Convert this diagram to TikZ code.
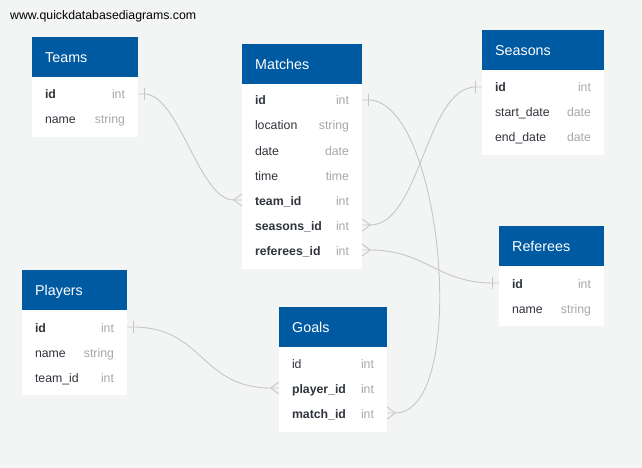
\documentclass[tikz,border=0pt]{standalone}
\usepackage{fontspec}
\setmainfont{Liberation Sans}
\usetikzlibrary{calc}
\definecolor{bg}{RGB}{243,245,244}
\definecolor{hdrblue}{RGB}{0,90,162}
\definecolor{fieldtxt}{RGB}{48,52,60}
\definecolor{typetxt}{RGB}{168,168,168}
\definecolor{relline}{RGB}{198,198,198}
\newcommand\erone[2]{\draw[rel] ($(#1)+(#2*6,-6)$) -- ++(0,12);}
\newcommand\ermany[2]{\draw[rel] ($(#1)+(0,-6)$) -- ($(#1)+(#2*8,0)$) -- ($(#1)+(0,6)$);}
\begin{document}
\begin{tikzpicture}[x=1pt,y=-1pt,
  hdr/.style={fill=hdrblue, text=white, font=\fontsize{14.3}{16}\selectfont, anchor=north west,
    minimum height=40pt, inner xsep=13pt, inner ysep=0pt, align=left, text height=10pt, text depth=0pt},
  bodybox/.style={fill=white, anchor=north west, inner sep=0pt},
  rowbox/.style={inner sep=0pt, minimum height=25pt},
  fname/.style={anchor=west, text=fieldtxt, font=\fontsize{12.3}{14}\selectfont, inner sep=0pt,
    text height=10pt, text depth=0pt},
  fbold/.style={fname, font=\fontsize{12.3}{14}\selectfont\bfseries},
  ftype/.style={anchor=east, text=typetxt, font=\fontsize{12.3}{14}\selectfont, inner sep=0pt,
    text height=10pt, text depth=0pt},
  rel/.style={draw=relline, line width=0.9pt},
]
\fill[bg] (0,0) rectangle (642,468);
\useasboundingbox (0,0) rectangle (642,468);

\node[anchor=base west, inner sep=0pt, font=\fontsize{12.3}{14}\selectfont] (url) at (10,20) {www.quickdatabasediagrams.com};

% ---------- Teams ----------
\node[bodybox, minimum width=106pt, minimum height=60pt] (teams-body) at (32,77) {};
\node[hdr, text width=80pt] (teams) at (32,37) {Teams};
\node[rowbox, minimum width=106pt] (teams-id) at (85,94) {};
\node[rowbox, minimum width=106pt] (teams-name) at (85,119) {};
\node[fbold] (teams-id-n) at ([xshift=13pt]teams-id.west) {id};
\node[ftype] (teams-id-t) at ([xshift=-13pt]teams-id.east) {int};
\node[fname] (teams-name-n) at ([xshift=13pt]teams-name.west) {name};
\node[ftype] (teams-name-t) at ([xshift=-13pt]teams-name.east) {string};

% ---------- Matches ----------
\node[bodybox, minimum width=120pt, minimum height=185pt] (matches-body) at (242,84) {};
\node[hdr, text width=94pt] (matches) at (242,44) {Matches};
\node[rowbox, minimum width=120pt] (matches-id) at (302,100) {};
\node[rowbox, minimum width=120pt] (matches-location) at (302,125) {};
\node[rowbox, minimum width=120pt] (matches-date) at (302,150) {};
\node[rowbox, minimum width=120pt] (matches-time) at (302,175) {};
\node[rowbox, minimum width=120pt] (matches-teamid) at (302,200) {};
\node[rowbox, minimum width=120pt] (matches-seasonsid) at (302,225) {};
\node[rowbox, minimum width=120pt] (matches-refid) at (302,250) {};
\node[fbold] (matches-id-n) at ([xshift=13pt]matches-id.west) {id};
\node[ftype] (matches-id-t) at ([xshift=-13pt]matches-id.east) {int};
\node[fname] (matches-location-n) at ([xshift=13pt]matches-location.west) {location};
\node[ftype] (matches-location-t) at ([xshift=-13pt]matches-location.east) {string};
\node[fname] (matches-date-n) at ([xshift=13pt]matches-date.west) {date};
\node[ftype] (matches-date-t) at ([xshift=-13pt]matches-date.east) {date};
\node[fname] (matches-time-n) at ([xshift=13pt]matches-time.west) {time};
\node[ftype] (matches-time-t) at ([xshift=-13pt]matches-time.east) {time};
\node[fbold] (matches-teamid-n) at ([xshift=13pt]matches-teamid.west) {team\_id};
\node[ftype] (matches-teamid-t) at ([xshift=-13pt]matches-teamid.east) {int};
\node[fbold] (matches-seasonsid-n) at ([xshift=13pt]matches-seasonsid.west) {seasons\_id};
\node[ftype] (matches-seasonsid-t) at ([xshift=-13pt]matches-seasonsid.east) {int};
\node[fbold] (matches-refid-n) at ([xshift=13pt]matches-refid.west) {referees\_id};
\node[ftype] (matches-refid-t) at ([xshift=-13pt]matches-refid.east) {int};

% ---------- Seasons ----------
\node[bodybox, minimum width=122pt, minimum height=85pt] (seasons-body) at (482,70) {};
\node[hdr, text width=96pt] (seasons) at (482,30) {Seasons};
\node[rowbox, minimum width=122pt] (seasons-id) at (543,87) {};
\node[rowbox, minimum width=122pt] (seasons-start) at (543,112) {};
\node[rowbox, minimum width=122pt] (seasons-end) at (543,137) {};
\node[fbold] (seasons-id-n) at ([xshift=13pt]seasons-id.west) {id};
\node[ftype] (seasons-id-t) at ([xshift=-13pt]seasons-id.east) {int};
\node[fname] (seasons-start-n) at ([xshift=13pt]seasons-start.west) {start\_date};
\node[ftype] (seasons-start-t) at ([xshift=-13pt]seasons-start.east) {date};
\node[fname] (seasons-end-n) at ([xshift=13pt]seasons-end.west) {end\_date};
\node[ftype] (seasons-end-t) at ([xshift=-13pt]seasons-end.east) {date};

% ---------- Referees ----------
\node[bodybox, minimum width=105pt, minimum height=60pt] (referees-body) at (499,266) {};
\node[hdr, text width=79pt] (referees) at (499,226) {Referees};
\node[rowbox, minimum width=105pt] (referees-id) at (551.5,283) {};
\node[rowbox, minimum width=105pt] (referees-name) at (551.5,308) {};
\node[fbold] (referees-id-n) at ([xshift=13pt]referees-id.west) {id};
\node[ftype] (referees-id-t) at ([xshift=-13pt]referees-id.east) {int};
\node[fname] (referees-name-n) at ([xshift=13pt]referees-name.west) {name};
\node[ftype] (referees-name-t) at ([xshift=-13pt]referees-name.east) {string};

% ---------- Players ----------
\node[bodybox, minimum width=105pt, minimum height=85pt] (players-body) at (22,310) {};
\node[hdr, text width=79pt] (players) at (22,270) {Players};
\node[rowbox, minimum width=105pt] (players-id) at (74.5,327) {};
\node[rowbox, minimum width=105pt] (players-name) at (74.5,352) {};
\node[rowbox, minimum width=105pt] (players-teamid) at (74.5,377) {};
\node[fbold] (players-id-n) at ([xshift=13pt]players-id.west) {id};
\node[ftype] (players-id-t) at ([xshift=-13pt]players-id.east) {int};
\node[fname] (players-name-n) at ([xshift=13pt]players-name.west) {name};
\node[ftype] (players-name-t) at ([xshift=-13pt]players-name.east) {string};
\node[fname] (players-teamid-n) at ([xshift=13pt]players-teamid.west) {team\_id};
\node[ftype] (players-teamid-t) at ([xshift=-13pt]players-teamid.east) {int};

% ---------- Goals ----------
\node[bodybox, minimum width=108pt, minimum height=85pt] (goals-body) at (279,347) {};
\node[hdr, text width=82pt] (goals) at (279,307) {Goals};
\node[rowbox, minimum width=108pt] (goals-id) at (333,363) {};
\node[rowbox, minimum width=108pt] (goals-playerid) at (333,388) {};
\node[rowbox, minimum width=108pt] (goals-matchid) at (333,413) {};
\node[fname] (goals-id-n) at ([xshift=13pt]goals-id.west) {id};
\node[ftype] (goals-id-t) at ([xshift=-13pt]goals-id.east) {int};
\node[fbold] (goals-playerid-n) at ([xshift=13pt]goals-playerid.west) {player\_id};
\node[ftype] (goals-playerid-t) at ([xshift=-13pt]goals-playerid.east) {int};
\node[fbold] (goals-matchid-n) at ([xshift=13pt]goals-matchid.west) {match\_id};
\node[ftype] (goals-matchid-t) at ([xshift=-13pt]goals-matchid.east) {int};

% ---------- relations ----------
\draw[rel] (teams-id.east) -- ++(6,0) .. controls +(35,0) and +(-35,0) .. ([xshift=-8pt]matches-teamid.west) -- (matches-teamid.west);
\erone{teams-id.east}{1}
\ermany{matches-teamid.west}{-1}

\draw[rel] (matches-id.east) -- ++(6,0) .. controls +(75,0) and +(75,0) .. ([xshift=8pt]goals-matchid.east) -- (goals-matchid.east);
\erone{matches-id.east}{1}
\ermany{goals-matchid.east}{1}

\draw[rel] (matches-seasonsid.east) -- ++(8,0) .. controls +(50,0) and +(-50,0) .. ([xshift=-6pt]seasons-id.west) -- (seasons-id.west);
\ermany{matches-seasonsid.east}{1}
\erone{seasons-id.west}{-1}

\draw[rel] (matches-refid.east) -- ++(8,0) .. controls +(55,0) and +(-55,0) .. ([xshift=-6pt]referees-id.west) -- (referees-id.west);
\ermany{matches-refid.east}{1}
\erone{referees-id.west}{-1}

\draw[rel] (players-id.east) -- ++(6,0) .. controls +(70,0) and +(-70,0) .. ([xshift=-8pt]goals-playerid.west) -- (goals-playerid.west);
\erone{players-id.east}{1}
\ermany{goals-playerid.west}{-1}
\end{tikzpicture}
\end{document}
